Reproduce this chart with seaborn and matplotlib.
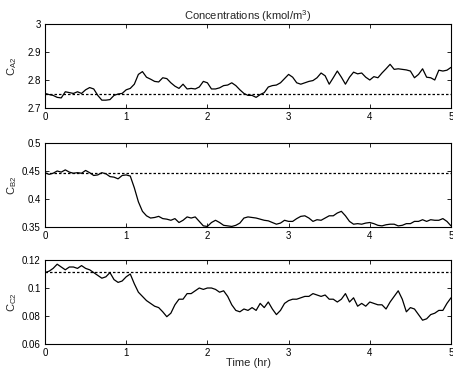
import numpy as np
import pandas as pd
import matplotlib
matplotlib.use("Agg")
import matplotlib.pyplot as plt
import seaborn as sns

time_hr = [round(0.05 * i, 2) for i in range(101)]

c_a2 = [2.752, 2.748, 2.745, 2.738, 2.736, 2.758, 2.755, 2.752, 2.758, 2.752,
        2.765, 2.773, 2.768, 2.745, 2.728, 2.728, 2.730, 2.745, 2.750, 2.752,
        2.765, 2.770, 2.785, 2.820, 2.830, 2.810, 2.803, 2.795, 2.793, 2.808,
        2.805, 2.790, 2.778, 2.770, 2.785, 2.768, 2.770, 2.768, 2.775, 2.795,
        2.790, 2.768, 2.768, 2.772, 2.780, 2.782, 2.790, 2.780, 2.765, 2.752,
        2.745, 2.745, 2.738, 2.748, 2.755, 2.775, 2.780, 2.782, 2.790, 2.805,
        2.820, 2.810, 2.790, 2.785, 2.790, 2.795, 2.798, 2.808, 2.825, 2.815,
        2.785, 2.808, 2.832, 2.810, 2.785, 2.810, 2.828, 2.822, 2.825, 2.810,
        2.800, 2.812, 2.808, 2.825, 2.840, 2.856, 2.838, 2.840, 2.838, 2.836,
        2.832, 2.808, 2.820, 2.840, 2.810, 2.808, 2.800, 2.835, 2.832, 2.835,
        2.845]

c_b2 = [0.447, 0.444, 0.446, 0.450, 0.448, 0.452, 0.448, 0.446, 0.447, 0.446,
        0.451, 0.447, 0.442, 0.443, 0.447, 0.445, 0.440, 0.439, 0.436, 0.442,
        0.443, 0.441, 0.420, 0.395, 0.378, 0.370, 0.366, 0.367, 0.369, 0.365,
        0.364, 0.362, 0.365, 0.358, 0.362, 0.368, 0.366, 0.368, 0.360, 0.352,
        0.351, 0.358, 0.362, 0.358, 0.353, 0.352, 0.351, 0.353, 0.357, 0.366,
        0.368, 0.367, 0.366, 0.364, 0.362, 0.361, 0.358, 0.355, 0.357, 0.362,
        0.360, 0.360, 0.365, 0.369, 0.370, 0.366, 0.360, 0.363, 0.362, 0.366,
        0.370, 0.370, 0.375, 0.378, 0.370, 0.360, 0.355, 0.356, 0.355, 0.357,
        0.358, 0.356, 0.353, 0.352, 0.354, 0.355, 0.355, 0.352, 0.353, 0.356,
        0.356, 0.360, 0.360, 0.363, 0.360, 0.363, 0.362, 0.362, 0.365, 0.360,
        0.352]

c_c2 = [0.111, 0.112, 0.114, 0.117, 0.115, 0.113, 0.115, 0.115, 0.114, 0.116,
        0.114, 0.113, 0.111, 0.109, 0.107, 0.108, 0.111, 0.106, 0.104, 0.105,
        0.108, 0.110, 0.103, 0.097, 0.094, 0.091, 0.089, 0.087, 0.086, 0.083,
        0.0795, 0.082, 0.088, 0.092, 0.092, 0.096, 0.096, 0.098, 0.100, 0.099,
        0.100, 0.100, 0.099, 0.097, 0.098, 0.094, 0.088, 0.084, 0.083, 0.085,
        0.084, 0.086, 0.084, 0.089, 0.086, 0.090, 0.085, 0.081, 0.084, 0.089,
        0.091, 0.092, 0.092, 0.093, 0.094, 0.094, 0.096, 0.095, 0.094, 0.095,
        0.092, 0.092, 0.090, 0.092, 0.096, 0.090, 0.093, 0.087, 0.089, 0.087,
        0.090, 0.089, 0.088, 0.088, 0.085, 0.090, 0.094, 0.098, 0.092, 0.083,
        0.086, 0.085, 0.081, 0.077, 0.078, 0.081, 0.082, 0.084, 0.084, 0.089,
        0.093]

setpoints = [2.75, 0.447, 0.1114]
ylims = [(2.7, 3.0), (0.35, 0.5), (0.06, 0.12)]
yticks = [[2.7, 2.8, 2.9, 3.0], [0.35, 0.4, 0.45, 0.5], [0.06, 0.08, 0.1, 0.12]]
ytick_labels = [["2.7", "2.8", "2.9", "3"], ["0.35", "0.4", "0.45", "0.5"],
                ["0.06", "0.08", "0.1", "0.12"]]
ylabels = ["C$_{A2}$", "C$_{B2}$", "C$_{C2}$"]
xticks = [0, 1, 2, 3, 4, 5]

sns.set_style("ticks")
plt.rcParams["font.family"] = ["Liberation Sans", "DejaVu Sans"]
plt.rcParams["mathtext.default"] = "regular"

W, H = 453, 373
fig = plt.figure(figsize=(W / 100, H / 100), dpi=100)
fig.patch.set_facecolor("white")

# axes boxes in pixels: (left, top, right, bottom)
boxes = [(45, 24, 451, 108), (45, 143, 451, 227), (45, 260, 451, 344)]
series = [c_a2, c_b2, c_c2]

for i, (box, vals) in enumerate(zip(boxes, series)):
    l, t, r, b = box
    ax = fig.add_axes([l / W, 1 - b / H, (r - l) / W, (b - t) / H])
    df = pd.DataFrame({"t": time_hr, "v": vals})
    sns.lineplot(data=df, x="t", y="v", ax=ax, color="black", linewidth=0.9)
    ax.axhline(setpoints[i], color="black", linewidth=0.9, linestyle=(0, (2, 1.6)))
    ax.set_xlim(0, 5)
    ax.set_ylim(*ylims[i])
    ax.set_xticks(xticks)
    ax.set_xticklabels([str(x) for x in xticks])
    ax.set_yticks(yticks[i])
    ax.set_yticklabels(ytick_labels[i])
    ax.tick_params(direction="in", top=True, right=True, length=3, width=0.6,
                   labelsize=7, pad=3, colors="black")
    for s in ax.spines.values():
        s.set_visible(True)
        s.set_linewidth(0.8)
        s.set_color("black")
    ax.set_xlabel("")
    ax.set_ylabel(ylabels[i], fontsize=8)
    ax.yaxis.set_label_coords(-0.064, 0.5)
    if i == 0:
        ax.set_title("Concentrations (kmol/m$^3$)", fontsize=8, pad=3)
    if i == 2:
        ax.set_xlabel("Time (hr)", fontsize=8, labelpad=0)

fig.savefig("out.png", dpi=100, facecolor="white")
